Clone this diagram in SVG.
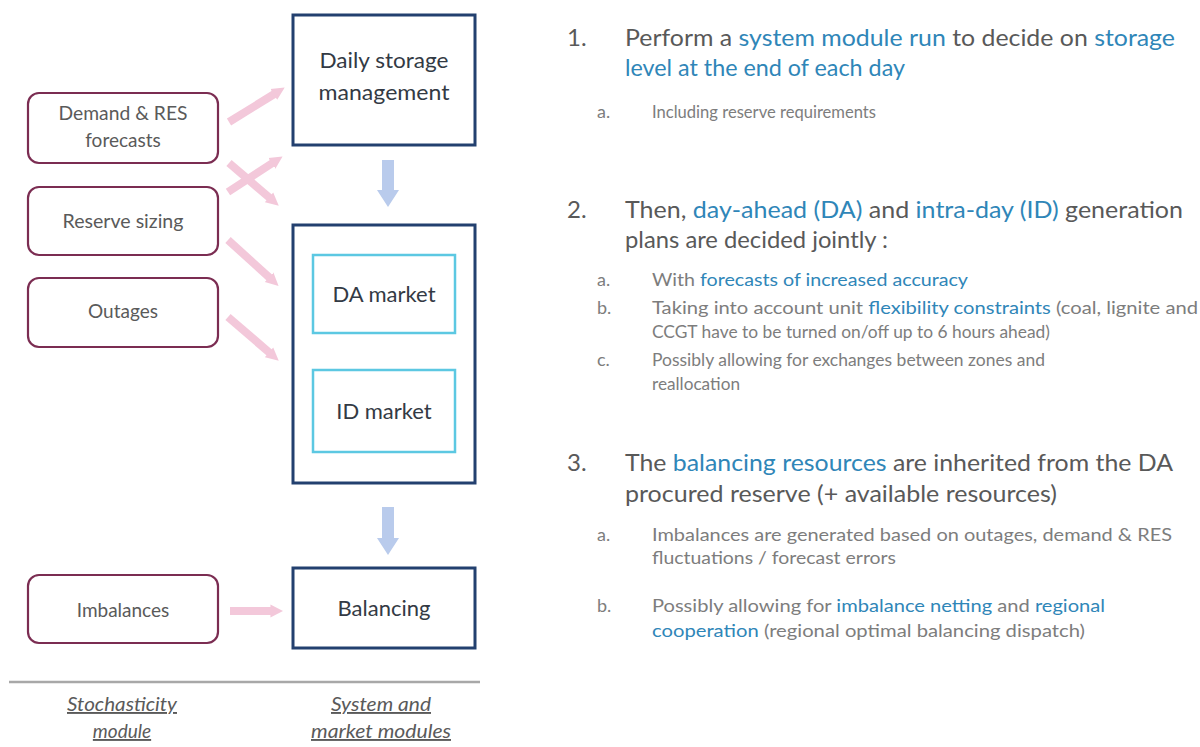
<svg xmlns="http://www.w3.org/2000/svg" width="1200" height="747" viewBox="0 0 1200 747">
  <style>
    .bg { fill: #ffffff; }
    .stoch rect { fill: #ffffff; stroke: #7b2d52; stroke-width: 2.2; }
    .sys > rect { fill: #ffffff; stroke: #23406f; stroke-width: 3; }
    .inner rect { fill: #ffffff; stroke: #5cc8e2; stroke-width: 2.5; }
    .lbl { font-family: Lato, "Liberation Sans", sans-serif; font-size: 19px; fill: #5a5a5a; text-anchor: middle; }
    .slbl { font-family: Lato, "Liberation Sans", sans-serif; font-size: 22px; fill: #333a44; text-anchor: middle; }
    .foot { font-family: Lato, "Liberation Sans", sans-serif; font-size: 19px; font-style: italic; fill: #5a5a5a; text-anchor: middle; text-decoration: underline; }
    .pink { stroke: #f3c8da; stroke-width: 8; fill: none; }
    .pinkhead { fill: #f3c8da; }
    .blue { fill: #b9cbec; }
    .main { font-family: Lato, "Liberation Sans", sans-serif; font-size: 24px; fill: #595959; }
    .sub { font-family: Lato, "Liberation Sans", sans-serif; font-size: 18px; fill: #7d7d7d; }
    .hl { fill: #2f86b8; }
  </style>
  <defs>
    <marker id="pinkArrow" viewBox="0 0 10 10" refX="2" refY="5" markerWidth="1.6" markerHeight="1.8" orient="auto" markerUnits="strokeWidth">
      <path d="M0,0 L10,5 L0,10 z" class="pinkhead"/>
    </marker>
  </defs>

  <rect class="bg" x="0" y="0" width="1200" height="747"/>

  <!-- stochasticity module inputs -->
  <g id="demand-res" class="stoch">
    <rect x="28" y="93" width="190" height="70" rx="11"/>
    <text class="lbl" x="123" y="120" textLength="129" lengthAdjust="spacingAndGlyphs">Demand &amp; RES</text>
    <text class="lbl" x="123" y="147">forecasts</text>
  </g>
  <g id="reserve-sizing" class="stoch">
    <rect x="28" y="187" width="190" height="68" rx="11"/>
    <text class="lbl" x="123" y="228" textLength="121" lengthAdjust="spacingAndGlyphs">Reserve sizing</text>
  </g>
  <g id="outages" class="stoch">
    <rect x="28" y="278" width="190" height="69" rx="11"/>
    <text class="lbl" x="123" y="318">Outages</text>
  </g>
  <g id="imbalances" class="stoch">
    <rect x="28" y="575" width="190" height="68" rx="11"/>
    <text class="lbl" x="123" y="617">Imbalances</text>
  </g>

  <!-- system and market modules -->
  <g id="daily-storage" class="sys">
    <rect x="293" y="15" width="182" height="130"/>
    <text class="slbl" x="384" y="68" textLength="129" lengthAdjust="spacingAndGlyphs">Daily storage</text>
    <text class="slbl" x="384" y="100" textLength="131" lengthAdjust="spacingAndGlyphs">management</text>
  </g>
  <g id="markets" class="sys">
    <rect x="293" y="225" width="182" height="258"/>
    <g id="da-market" class="inner">
      <rect x="313" y="255" width="142" height="78"/>
      <text class="slbl" x="384" y="302">DA market</text>
    </g>
    <g id="id-market" class="inner">
      <rect x="313" y="370" width="142" height="82"/>
      <text class="slbl" x="384" y="419">ID market</text>
    </g>
  </g>
  <g id="balancing" class="sys">
    <rect x="293" y="568" width="182" height="80"/>
    <text class="slbl" x="384" y="616">Balancing</text>
  </g>

  <!-- connectors -->
  <g id="connectors">
    <line class="pink" x1="229" y1="122" x2="276" y2="93" marker-end="url(#pinkArrow)"/>
    <line class="pink" x1="228" y1="192" x2="274" y2="162" marker-end="url(#pinkArrow)"/>
    <line class="pink" x1="229" y1="163" x2="271" y2="199" marker-end="url(#pinkArrow)"/>
    <line class="pink" x1="228" y1="240" x2="271" y2="279" marker-end="url(#pinkArrow)"/>
    <line class="pink" x1="228" y1="317" x2="271" y2="354" marker-end="url(#pinkArrow)"/>
    <line class="pink" x1="230" y1="611" x2="273" y2="611" marker-end="url(#pinkArrow)"/>
    <path class="blue" d="M382,160 H394 V190 H399 L388,207 L377,190 H382 Z"/>
    <path class="blue" d="M382,507 H394 V538 H399 L388,555 L377,538 H382 Z"/>
  </g>

  <!-- module separator and captions -->
  <line x1="9" y1="682" x2="480" y2="682" stroke="#a8a8a8" stroke-width="2.5"/>
  <text class="foot" x="122" y="711" textLength="110" lengthAdjust="spacingAndGlyphs">Stochasticity</text>
  <text class="foot" x="122" y="738">module</text>
  <text class="foot" x="381" y="711" textLength="100" lengthAdjust="spacingAndGlyphs">System and</text>
  <text class="foot" x="381" y="738" textLength="140" lengthAdjust="spacingAndGlyphs">market modules</text>

  <!-- step 1 -->
  <g id="step1">
    <text class="main" x="567" y="46">1.</text>
    <text class="main" x="625" y="46" textLength="550" lengthAdjust="spacingAndGlyphs">Perform a <tspan class="hl">system module run</tspan> to decide on <tspan class="hl">storage</tspan></text>
    <text class="main hl" x="625" y="76" textLength="280" lengthAdjust="spacingAndGlyphs">level at the end of each day</text>
    <text class="sub" x="597" y="118">a.</text>
    <text class="sub" x="652" y="118" textLength="224" lengthAdjust="spacingAndGlyphs">Including reserve requirements</text>
  </g>

  <!-- step 2 -->
  <g id="step2">
    <text class="main" x="567" y="218">2.</text>
    <text class="main" x="625" y="218" textLength="558" lengthAdjust="spacingAndGlyphs">Then, <tspan class="hl">day-ahead (DA)</tspan> and <tspan class="hl">intra-day (ID)</tspan> generation</text>
    <text class="main" x="625" y="248" textLength="263" lengthAdjust="spacingAndGlyphs">plans are decided jointly :</text>
    <text class="sub" x="597" y="286">a.</text>
    <text class="sub" x="652" y="286" textLength="316" lengthAdjust="spacingAndGlyphs">With <tspan class="hl">forecasts of increased accuracy</tspan></text>
    <text class="sub" x="597" y="314">b.</text>
    <text class="sub" x="652" y="314" textLength="546" lengthAdjust="spacingAndGlyphs">Taking into account unit <tspan class="hl">flexibility constraints</tspan> (coal, lignite and</text>
    <text class="sub" x="652" y="338" textLength="398" lengthAdjust="spacingAndGlyphs">CCGT have to be turned on/off up to 6 hours ahead)</text>
    <text class="sub" x="597" y="366">c.</text>
    <text class="sub" x="652" y="366" textLength="393" lengthAdjust="spacingAndGlyphs">Possibly allowing for exchanges between zones and</text>
    <text class="sub" x="652" y="390" textLength="88" lengthAdjust="spacingAndGlyphs">reallocation</text>
  </g>

  <!-- step 3 -->
  <g id="step3">
    <text class="main" x="567" y="471">3.</text>
    <text class="main" x="625" y="471" textLength="548" lengthAdjust="spacingAndGlyphs">The <tspan class="hl">balancing resources</tspan> are inherited from the DA</text>
    <text class="main" x="625" y="502" textLength="432" lengthAdjust="spacingAndGlyphs">procured reserve (+ available resources)</text>
    <text class="sub" x="597" y="541">a.</text>
    <text class="sub" x="652" y="541" textLength="520" lengthAdjust="spacingAndGlyphs">Imbalances are generated based on outages, demand &amp; RES</text>
    <text class="sub" x="652" y="564" textLength="244" lengthAdjust="spacingAndGlyphs">fluctuations / forecast errors</text>
    <text class="sub" x="597" y="612">b.</text>
    <text class="sub" x="652" y="612" textLength="453" lengthAdjust="spacingAndGlyphs">Possibly allowing for <tspan class="hl">imbalance netting</tspan> and <tspan class="hl">regional</tspan></text>
    <text class="sub" x="652" y="637" textLength="433" lengthAdjust="spacingAndGlyphs"><tspan class="hl">cooperation</tspan> (regional optimal balancing dispatch)</text>
  </g>
</svg>
